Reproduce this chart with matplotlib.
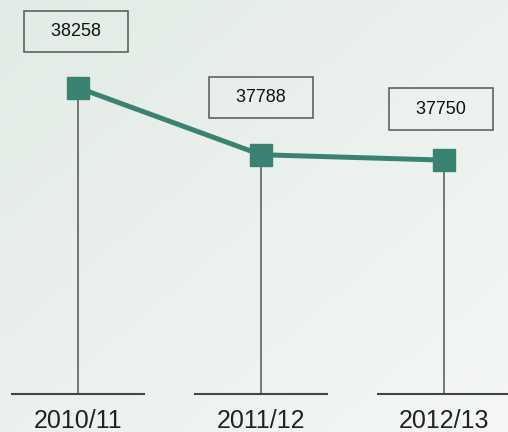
import numpy as np
import matplotlib
matplotlib.use("Agg")
import matplotlib.pyplot as plt

plt.rcParams['font.family'] = ['Liberation Sans', 'DejaVu Sans']

# data
years = ['2010/11', '2011/12', '2012/13']
counts = [38258, 37788, 37750]

W, H, DPI = 508, 432, 100
fig = plt.figure(figsize=(W / DPI, H / DPI), dpi=DPI)

# background gradient (diagonal, greenish grey -> near white)
bg = fig.add_axes([0, 0, 1, 1])
gx, gy = np.meshgrid(np.linspace(0, 1, 200), np.linspace(0, 1, 200))
t = (gx + gy) / 2
c0 = np.array([226, 235, 229]) / 255
c1 = np.array([244, 247, 245]) / 255
img = c0[None, None, :] * (1 - t[..., None]) + c1[None, None, :] * t[..., None]
bg.imshow(img, extent=[0, 1, 0, 1], aspect='auto', origin='upper')
bg.axis('off')

base_px = 38
ax = fig.add_axes([0, base_px / H, 1, (H - base_px) / H])
ax.patch.set_alpha(0)
x = np.arange(len(years))
ymin = 36110
ax.set_ylim(ymin, 38873)
ax.set_xlim(-0.426, 2.35)
ax.axis('off')

teal = '#3a8373'
ax.vlines(x, ymin, counts, color='#555555', lw=1.1, zorder=1)
ax.hlines([ymin] * len(x), x - 0.368, x + 0.368, color='#444444', lw=1.5,
          zorder=1, clip_on=False)
ax.plot(x, counts, color=teal, lw=3.6, marker='s', ms=16.5, zorder=3)

offsets = [(-2, 56), (0, 57), (-3, 51)]
for xi, v, off in zip(x, counts, offsets):
    ax.annotate('   %d   ' % v, (xi, v), xytext=off, textcoords='offset pixels',
                ha='center', va='center', fontsize=13, color='#111111',
                bbox=dict(boxstyle='square,pad=0.68', fc='none', ec='#555555', lw=1.1))
    ax.annotate(years[xi], (xi, ymin), xytext=(0, -27), textcoords='offset pixels',
                ha='center', va='center', fontsize=18, color='#222222',
                annotation_clip=False)

fig.savefig('out.png', dpi=DPI)
